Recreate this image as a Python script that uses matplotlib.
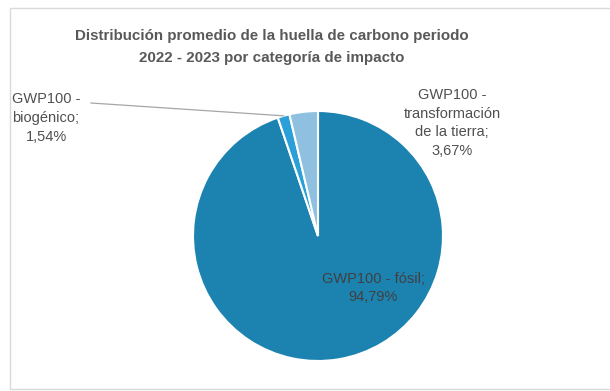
import numpy as np
import matplotlib.pyplot as plt
from matplotlib.patches import Rectangle

categorias = ['GWP100 - fósil', 'GWP100 - biogénico', 'GWP100 -\ntransformación\nde la tierra']
valores = [94.79, 1.54, 3.67]
colores = ['#1c83b0', '#2a9fd8', '#8fc0e0']
titulo = 'Distribución promedio de la huella de carbono periodo\n2022 - 2023 por categoría de impacto'

plt.rcParams['font.family'] = ['Liberation Sans', 'DejaVu Sans']

fig = plt.figure(figsize=(6.1, 3.91), dpi=100)
fig.patches.append(Rectangle((10/610, 1-389/391), 1.0, 381/391, transform=fig.transFigure,
                             fill=False, edgecolor='#d9d9d9', lw=1))
ax = fig.add_axes([0, 0, 1, 1])
ax.axis('off')

wedges, _ = ax.pie(valores, colors=colores, startangle=90, counterclock=False, radius=1,
                   wedgeprops=dict(edgecolor='white', linewidth=1.5))
# pixel-matched limits: centre at (318, 236), radius 125 px
ax.set_xlim(-318/125, (610-318)/125)
ax.set_ylim(-(391-236)/125, 236/125)
ax.set_aspect('auto')

def fmt(v):
    return f'{v:.2f}'.replace('.', ',') + '%'

gris = '#404040'
fs = 10.5
# fósil, dentro
ax.text((373-318)/125, (236-288)/125, f'{categorias[0]};\n{fmt(valores[0])}',
        ha='center', va='center', fontsize=fs, color=gris, linespacing=1.45)

# biogénico, con línea guía
w = wedges[1]
ang = np.deg2rad((w.theta1 + w.theta2) / 2)
x0, y0 = np.cos(ang), np.sin(ang)
lx, ly = (91-318)/125, (236-103)/125
ax.plot([lx, x0], [ly, y0], color='#a6a6a6', lw=0.9)
ax.text((46-318)/125, (236-118)/125, 'GWP100 -\nbiogénico;\n' + fmt(valores[1]),
        ha='center', va='center', fontsize=fs, color='#505050', linespacing=1.45)

# transformación
ax.text((452-318)/125, (236-123)/125, categorias[2] + ';\n' + fmt(valores[2]),
        ha='center', va='center', fontsize=fs, color='#505050', linespacing=1.45)

fig.text(272/610, 1-47/391, titulo, ha='center', va='center', fontsize=10.9,
         fontweight='bold', color='#595959', linespacing=1.75)

fig.savefig('out.png', dpi=100)
